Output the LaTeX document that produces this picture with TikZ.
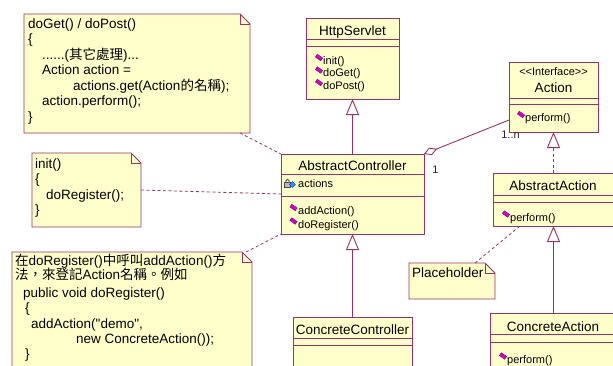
\documentclass[tikz,border=0pt]{standalone}
\usepackage{fontspec}
\newfontfamily\lsans{Liberation Sans}
\newfontfamily\cjk{Noto Sans CJK TC}
\usetikzlibrary{arrows.meta,calc}
\definecolor{umlline}{RGB}{153,51,102}
\definecolor{umlfill}{RGB}{255,255,204}
\definecolor{iconpink}{RGB}{214,0,214}
\definecolor{iconblue}{RGB}{30,150,255}
\newcommand\divline[2]{\draw[divider] ($(#1.north west)+(0,#2)$) -- ($(#1.north east)+(0,#2)$);}
\newcommand\notefold[2]{%
  \draw[noteline] (#1.north west) -- ($(#1.north east)+(-#2,0)$) -- ($(#1.north east)+(0,#2)$) -- (#1.south east) -- (#1.south west) -- cycle;
  \draw[noteline,fill=none] ($(#1.north east)+(-#2,0)$) |- ($(#1.north east)+(0,#2)$);}
\begin{document}
\begin{tikzpicture}[x=1pt,y=-1pt,
  cls/.style={draw=umlline, fill=umlfill, line width=0.9pt, inner sep=0pt, outer sep=0pt, anchor=north west},
  notebox/.style={inner sep=0pt, outer sep=0pt, anchor=north west},
  noteline/.style={draw=umlline, fill=umlfill, line width=0.9pt, line join=miter},
  divider/.style={draw=umlline, line width=0.9pt},
  ttl/.style={inner sep=0pt, anchor=base, font=\lsans\fontsize{13.5}{15}\selectfont},
  ntxt/.style={inner sep=0pt, anchor=base west, font=\lsans\fontsize{13.5}{15}\selectfont},
  mtxt/.style={inner sep=0pt, anchor=base west, font=\lsans\fontsize{11}{13}\selectfont},
  stereo/.style={inner sep=0pt, anchor=base, font=\lsans\fontsize{11}{13}\selectfont},
  mult/.style={inner sep=0pt, anchor=base, font=\lsans\fontsize{11}{13}\selectfont, text=black!85},
  conn/.style={draw=umlline, line width=0.9pt},
  dconn/.style={draw=umlline, line width=0.8pt, dash pattern=on 3pt off 2.5pt},
  inherit/.style={conn, -{Triangle[open, length=16pt, width=13pt, fill=white]}},
  realize/.style={dconn, -{Triangle[open, length=16pt, width=13pt, fill=white, line width=0.9pt]}},
  aggr/.style={conn, {Diamond[open, length=14pt, width=8pt, fill=white]}-},
  meth/.pic={\draw[draw=purple!55!black, fill=iconpink, line width=0.3pt, rotate=-35] (-3.3,-1.7) rectangle (3.3,1.7);},
  attr/.pic={
    \fill[gray!55, draw=black!70, line width=0.3pt] (-4.5,-0.5) rectangle (1.5,4);
    \draw[black!70, line width=0.9pt] (-3.2,-0.5) -- (-3.2,-2) arc[start angle=180, end angle=360, radius=1.7] -- (0.2,-0.5);
    \fill[iconblue, draw=blue!60!black, line width=0.3pt] (0.5,1.5) -- (3.5,-1.5) -- (6.5,1.5) -- (3.5,4.5) -- cycle;}
]
\path[use as bounding box] (0,0) rectangle (613,365);
\clip (0,0) rectangle (613,365);
\fill[white] (0,0) rectangle (613,365);

% ---------- class boxes ----------
\node[cls, minimum width=93pt, minimum height=81pt] (hs) at (306,18) {};
\divline{hs}{21}\divline{hs}{28}
\node[ttl] (hsT) at (352.5,35.5) {HttpServlet};
\pic at (319,57.5) {meth};
\node[mtxt] (hs1) at (323,64) {init()};
\pic at (319,70) {meth};
\node[mtxt] (hs2) at (323,76.5) {doGet()};
\pic at (319,82.5) {meth};
\node[mtxt] (hs3) at (323,89) {doPost()};

\node[cls, minimum width=89pt, minimum height=70pt] (act) at (509,62) {};
\divline{act}{36}\divline{act}{42}
\node[stereo] (actS) at (553.5,75) {<<Interface>>};
\node[ttl] (actT) at (553.5,92) {Action};
\pic at (521,114.5) {meth};
\node[mtxt] (act1) at (525,121) {perform()};

\node[cls, minimum width=143pt, minimum height=80pt] (ac) at (281,154) {};
\divline{ac}{20}\divline{ac}{42}
\node[ttl] (acT) at (352.5,170.5) {AbstractController};
\pic at (289,183) {attr};
\node[mtxt] (ac1) at (298,187) {actions};
\pic at (293.5,207.5) {meth};
\node[mtxt] (ac2) at (298,214.5) {addAction()};
\pic at (293.5,221) {meth};
\node[mtxt] (ac3) at (298,228) {doRegister()};

\node[cls, minimum width=122pt, minimum height=53pt] (aa) at (493,173) {};
\divline{aa}{22}\divline{aa}{29}
\node[ttl] (aaT) at (553,190) {AbstractAction};
\pic at (506,214) {meth};
\node[mtxt] (aa1) at (510,221) {perform()};

\node[cls, minimum width=119pt, minimum height=60pt] (cc) at (293,317) {};
\divline{cc}{21}\divline{cc}{28}
\node[ttl] (ccT) at (352.5,334) {ConcreteController};

\node[cls, minimum width=126pt, minimum height=60pt] (ca) at (490,313) {};
\divline{ca}{21}\divline{ca}{29}
\node[ttl] (caT) at (553,331) {ConcreteAction};
\pic at (503,356) {meth};
\node[mtxt] (ca1) at (507,363) {perform()};

% ---------- notes ----------
\node[notebox, minimum width=226pt, minimum height=119pt] (n1) at (24,14) {};
\notefold{n1}{10}
\node[ntxt] (n1a) at (28,28) {doGet() / doPost()};
\node[ntxt] (n1b) at (28,43.5) {\{};
\node[ntxt] (n1c) at (42,59) {......({\cjk 其它處理})...};
\node[ntxt] (n1d) at (42,74.5) {Action action =};
\node[ntxt] (n1e) at (73,90) {actions.get(Action{\cjk 的名稱});};
\node[ntxt] (n1f) at (42,105.5) {action.perform();};
\node[ntxt] (n1g) at (28,121) {\}};

\node[notebox, minimum width=109pt, minimum height=74pt] (n2) at (32,153) {};
\notefold{n2}{10}
\node[ntxt] (n2a) at (35,168) {init()};
\node[ntxt] (n2b) at (35,183.5) {\{};
\node[ntxt] (n2c) at (46,199) {doRegister();};
\node[ntxt] (n2d) at (35,214.5) {\}};

\node[notebox, minimum width=240pt, minimum height=130pt] (n3) at (12,252) {};
\notefold{n3}{10}
\node[ntxt] (n3a) at (15,265) {{\cjk 在}doRegister(){\cjk 中呼叫}addAction(){\cjk 方}};
\node[ntxt] (n3b) at (15,279) {{\cjk 法，來登記}Action{\cjk 名稱。例如}};
\node[ntxt] (n3c) at (23,297) {public void doRegister()};
\node[ntxt] (n3d) at (25,312.5) {\{};
\node[ntxt] (n3e) at (31,328) {addAction("demo",};
\node[ntxt] (n3f) at (76,343) {new ConcreteAction());};
\node[ntxt] (n3g) at (25,358) {\}};

\node[notebox, minimum width=86pt, minimum height=36pt] (ph) at (409,263) {};
\notefold{ph}{10}
\node[ntxt] (pht) at (412,277) {Placeholder};

% ---------- connectors ----------
\draw[inherit] (ac.north) -- (hs.south);
\draw[inherit] (cc.north) -- (ac.south);
\draw[realize] (aa.north -| act.south) -- (act.south);
\draw[inherit] (ca.north -| act.south) -- (aa.south -| act.south);
\draw[aggr] (ac.north east) -- ($(act.west)+(0,23)$);
\node[mult] (m1) at (510.5,138) {1..n};
\node[mult] (m2) at (435.5,173) {1};

\draw[dconn] ($(n1.south east)+(-10,0)$) -- (ac.north west);
\draw[dconn] (n2.east) -- (ac.west);
\draw[dconn] ($(n3.north east)+(-6,0)$) -- (ac.south west);
\draw[dconn] ($(ph.north east)+(-20,0)$) -- ($(aa.south west)+(27,0)$);
\end{tikzpicture}
\end{document}
